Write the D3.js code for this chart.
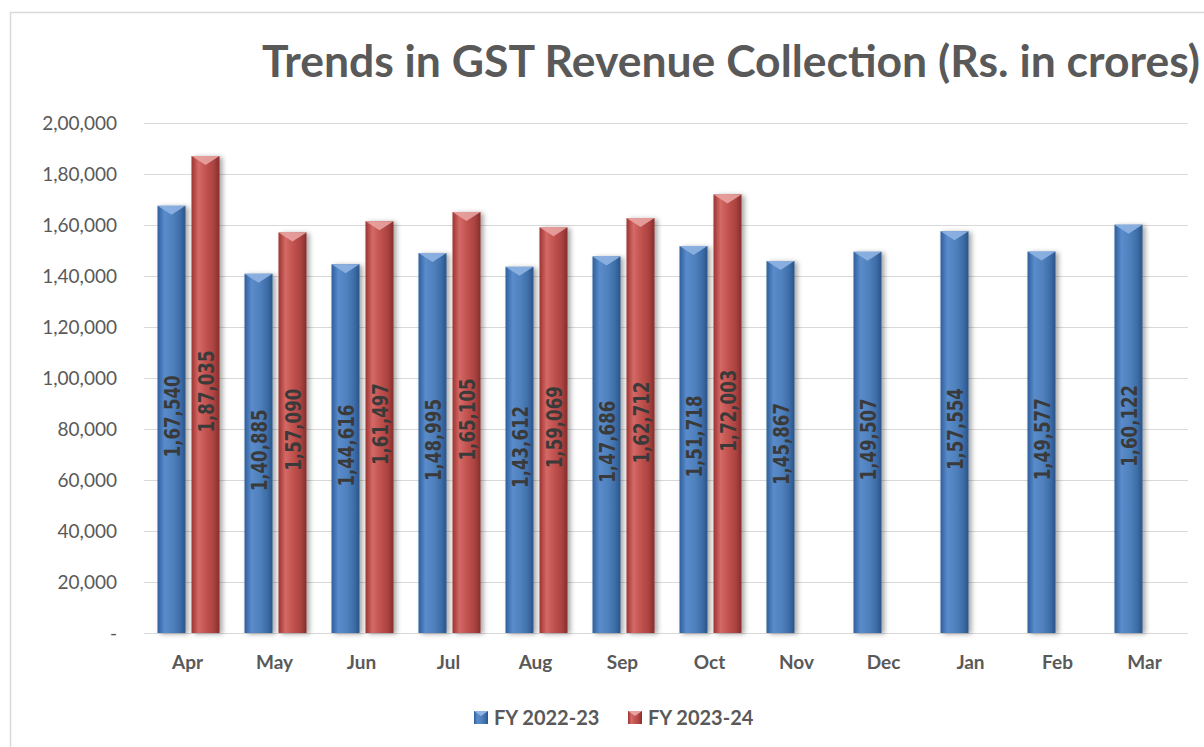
<!DOCTYPE html>
<html>
<head>
<meta charset="utf-8">
<script src="https://cdn.jsdelivr.net/npm/d3@7"></script>
<style>
  body { margin: 0; background: #fff; }
  svg { display: block; }
</style>
</head>
<body>
<div id="graphic"></div>
<script>
// chart data
const months = ["Apr", "May", "Jun", "Jul", "Aug", "Sep", "Oct", "Nov", "Dec", "Jan", "Feb", "Mar"];
const fy2223 = [167540, 140885, 144616, 148995, 143612, 147686, 151718, 145867, 149507, 157554, 149577, 160122];
const fy2324 = [187035, 157090, 161497, 165105, 159069, 162712, 172003, null, null, null, null, null];
const seriesNames = ["FY 2022-23", "FY 2023-24"];
const yTicks = [0, 20000, 40000, 60000, 80000, 100000, 120000, 140000, 160000, 180000, 200000];

const W = 1204, H = 747;
const plot = {left: 144, right: 1188, top: 123, bottom: 633};

const svg = d3.select("#graphic")
    .append("svg")
    .attr("width", W)
    .attr("height", H);

// Indian number format: 1,67,540
function inr(v) {
    if (v === 0) return "-";
    const s = String(Math.round(v));
    if (s.length <= 3) return s;
    const last3 = s.slice(-3);
    let rest = s.slice(0, -3);
    const parts = [];
    while (rest.length > 2) { parts.unshift(rest.slice(-2)); rest = rest.slice(0, -2); }
    if (rest.length) parts.unshift(rest);
    return parts.join(",") + "," + last3;
}

const defs = svg.append("defs");
const palettes = [
    {id: "gBlue", stops: ["#2f5f9c", "#5a8bcb", "#4f81bd", "#3f6ea9", "#2a5488"], cap: "#8fb4e3"},
    {id: "gRed", stops: ["#9c3432", "#d46966", "#c0504d", "#aa4341", "#862c2a"], cap: "#e8a3a1"}
];
palettes.forEach(p => {
    const g = defs.append("linearGradient").attr("id", p.id)
        .attr("x1", "0%").attr("x2", "100%").attr("y1", "0%").attr("y2", "0%");
    [0, 25, 55, 80, 100].forEach((o, i) => g.append("stop").attr("offset", o + "%").attr("stop-color", p.stops[i]));
});
const shadow = defs.append("filter").attr("id", "shadow")
    .attr("x", "-30%").attr("y", "-5%").attr("width", "170%").attr("height", "110%");
shadow.append("feDropShadow").attr("dx", 3).attr("dy", 1).attr("stdDeviation", 2.5)
    .attr("flood-color", "#000").attr("flood-opacity", 0.35);

// chart border
svg.append("rect")
    .attr("x", 10.5).attr("y", 12.5)
    .attr("width", W + 20).attr("height", H + 20)
    .attr("fill", "none").attr("stroke", "#d9d9d9").attr("stroke-width", 1.5);

// title
svg.append("text")
    .attr("x", 262).attr("y", 77)
    .attr("textLength", 938).attr("lengthAdjust", "spacingAndGlyphs")
    .style("font-family", "Lato, 'Open Sans', sans-serif")
    .style("font-weight", "bold")
    .style("font-size", "44px")
    .style("fill", "#595959")
    .text("Trends in GST Revenue Collection (Rs. in crores)");

const x = d3.scaleBand().domain(months).range([plot.left, plot.right]);
const x1 = d3.scaleBand().domain([0, 1]).range([13.5, 75.5]).paddingInner(0.176);
const y = d3.scaleLinear().domain([0, 200000]).range([plot.bottom, plot.top]);

// gridlines
svg.append("g")
    .selectAll("line")
    .data(yTicks)
    .join("line")
    .attr("x1", plot.left).attr("x2", plot.right)
    .attr("y1", d => y(d) + 0.5).attr("y2", d => y(d) + 0.5)
    .attr("stroke", "#d9d9d9").attr("stroke-width", 1.2);

// y axis
const yAxis = svg.append("g")
    .attr("transform", `translate(${plot.left}, 0)`)
    .call(d3.axisLeft(y).tickValues(yTicks).tickFormat(inr).tickSize(0).tickPadding(27));
yAxis.select(".domain").remove();
yAxis.selectAll("text")
    .style("font-family", "Lato, 'Open Sans', sans-serif")
    .style("font-size", "19px")
    .style("fill", "#595959");

// x axis
const xAxis = svg.append("g")
    .attr("transform", `translate(0, ${plot.bottom})`)
    .call(d3.axisBottom(x).tickSize(0).tickPadding(23));
xAxis.select(".domain").remove();
xAxis.selectAll("text")
    .style("font-family", "Lato, 'Open Sans', sans-serif")
    .style("font-size", "19px")
    .style("font-weight", "bold")
    .style("fill", "#595959");

// bars
const rows = [];
months.forEach((m, i) => {
    [fy2223[i], fy2324[i]].forEach((v, s) => {
        if (v !== null) rows.push({month: m, s: s, value: v});
    });
});

const bw = x1.bandwidth();
const bar = svg.append("g")
    .selectAll("g")
    .data(rows)
    .join("g")
    .attr("transform", d => `translate(${x(d.month) + x1(d.s)}, 0)`);

bar.append("rect")
    .attr("x", 0)
    .attr("y", d => y(d.value))
    .attr("width", bw)
    .attr("height", d => y(0) - y(d.value))
    .attr("fill", d => `url(#${palettes[d.s].id})`)
    .attr("filter", "url(#shadow)");

// bevel highlight on the top
bar.append("path")
    .attr("d", d => {
        const t = y(d.value);
        return `M0,${t} L${bw},${t} L${bw / 2},${t + 9} Z`;
    })
    .attr("fill", d => palettes[d.s].cap)
    .attr("opacity", 0.9);

// data labels
bar.append("text")
    .attr("transform", d => `translate(${bw / 2 + 1}, ${(y(d.value) + y(0)) / 2 - 3}) rotate(-90)`)
    .attr("text-anchor", "middle")
    .attr("dy", "0.35em")
    .attr("textLength", 82).attr("lengthAdjust", "spacingAndGlyphs")
    .style("font-family", "'DejaVu Sans Condensed', 'DejaVu Sans', sans-serif")
    .style("font-weight", "bold")
    .style("font-size", "22px")
    .style("fill", "#3a3a3a")
    .text(d => inr(d.value));

// legend
const legendX = [474, 628];
const legend = svg.append("g")
    .selectAll("g")
    .data(seriesNames)
    .join("g")
    .attr("transform", (d, i) => `translate(${legendX[i]}, 711)`);
legend.append("rect")
    .attr("width", 14).attr("height", 13)
    .attr("fill", (d, i) => `url(#${palettes[i].id})`);
legend.append("path")
    .attr("d", "M0,0 L14,0 L7,5 Z")
    .attr("fill", (d, i) => palettes[i].cap);
legend.append("text")
    .attr("x", 20).attr("y", 7)
    .attr("dy", "0.35em")
    .style("font-family", "Lato, 'Open Sans', sans-serif")
    .style("font-size", "20px")
    .style("font-weight", "bold")
    .style("fill", "#595959")
    .text(d => d);
</script>
</body>
</html>
